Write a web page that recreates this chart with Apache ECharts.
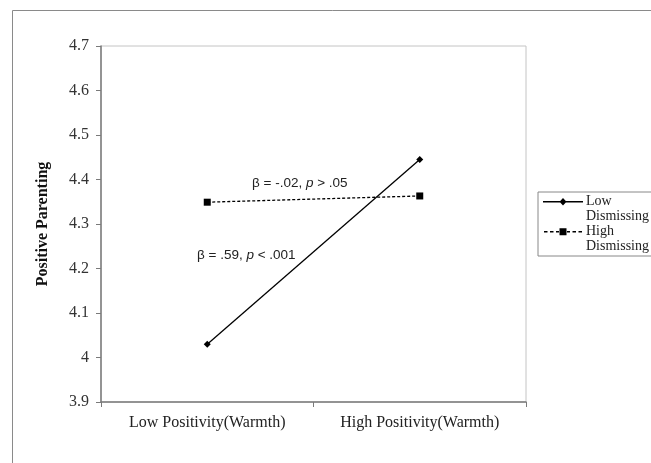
<!DOCTYPE html>
<html><head><meta charset="utf-8">
<script src="https://cdn.jsdelivr.net/npm/echarts@6/dist/echarts.min.js"></script>
<style>html,body{margin:0;padding:0;background:#fff}#c{width:651px;height:463px}</style>
</head><body><div id="c"></div>
<script>
const categories = ['Low Positivity(Warmth)', 'High Positivity(Warmth)'];
const lowDismissing = [4.03, 4.445];
const highDismissing = [4.349, 4.363];
const seriesNames = ['Low\nDismissing', 'High\nDismissing'];
const yTicks = { min: 3.9, max: 4.7, step: 0.1 };
const yTitle = 'Positive Parenting';
const annotLow = ['β = .59, ', 'p', ' < .001'];
const annotHigh = ['β = -.02, ', 'p', ' > .05'];

const chart = echarts.init(document.getElementById('c'), null, { renderer: 'canvas' });
const serif = '"Liberation Serif", "Times New Roman", serif';
const sans = '"Liberation Sans", Arial, sans-serif';
const iconSolid = 'path://M0 3 L40 3 L40 4.5 L0 4.5 Z M20 0 L23.5 3.75 L20 7.5 L16.5 3.75 Z M40 22 L40 22 Z';
const iconDashed = 'path://M1 3 L4.5 3 L4.5 4.5 L1 4.5 Z M7 3 L10.5 3 L10.5 4.5 L7 4.5 Z M13 3 L16 3 L16 4.5 L13 4.5 Z M16.5 0.25 L23.5 0.25 L23.5 7.25 L16.5 7.25 Z M24 3 L27 3 L27 4.5 L24 4.5 Z M29.5 3 L33 3 L33 4.5 L29.5 4.5 Z M35.5 3 L39 3 L39 4.5 L35.5 4.5 Z M0 22 L0 22 Z M40 0 L40 0 Z';
const option = {
  animation: false,
  backgroundColor: '#fff',
  grid: { left: 101, right: 125, top: 46, bottom: 61, show: true, borderColor: '#c4c4c4', borderWidth: 1 },
  xAxis: {
    type: 'category', data: categories, boundaryGap: true,
    axisLine: { lineStyle: { color: '#7a7a7a', width: 1.5 } },
    axisTick: { show: true, length: 5, lineStyle: { color: '#7a7a7a' } },
    axisLabel: { fontFamily: serif, fontSize: 16, color: '#222', margin: 13 }
  },
  yAxis: {
    type: 'value', min: yTicks.min, max: yTicks.max, interval: yTicks.step,
    name: yTitle, nameLocation: 'middle', nameGap: 50, nameRotate: 90,
    nameTextStyle: { fontFamily: serif, fontSize: 16, fontWeight: 'bold', color: '#111' },
    axisLine: { show: true, lineStyle: { color: '#7a7a7a', width: 1.5 } },
    axisTick: { show: true, length: 5, lineStyle: { color: '#7a7a7a' } },
    splitLine: { show: false },
    axisLabel: { fontFamily: serif, fontSize: 16, color: '#333', margin: 12,
      formatter: v => String(+v.toFixed(1)) }
  },
  legend: {
    left: 538, top: 192, orient: 'vertical', itemGap: 0,
    itemWidth: 40, itemHeight: 22,
    padding: [2, 20, 2, 5],
    borderColor: '#888', borderWidth: 1,
    textStyle: { fontFamily: serif, fontSize: 14, color: '#222', lineHeight: 15, padding: [0, 0, 0, -2] },
    data: [
      { name: seriesNames[0], icon: iconSolid },
      { name: seriesNames[1], icon: iconDashed }
    ]
  },
  series: [
    { name: seriesNames[0], type: 'line', data: lowDismissing, symbol: 'diamond', symbolSize: 7,
      lineStyle: { color: '#000', width: 1.3 }, itemStyle: { color: '#000' } },
    { name: seriesNames[1], type: 'line', data: highDismissing, symbol: 'rect', symbolSize: 7,
      lineStyle: { color: '#000', width: 1.3, type: [3, 2] }, itemStyle: { color: '#000' } }
  ],
  graphic: [
    { type: 'rect', shape: { x: 12.5, y: 10.5, width: 700, height: 500 }, style: { fill: 'none', stroke: '#8a8a8a', lineWidth: 1 }, silent: true },
    { type: 'text', left: 252, top: 176, style: {
        text: '{a|' + annotHigh[0] + '}{i|' + annotHigh[1] + '}{a|' + annotHigh[2] + '}',
        rich: { a: { fontFamily: sans, fontSize: 13.5, fill: '#222' }, i: { fontFamily: sans, fontSize: 13.5, fontStyle: 'italic', fill: '#222' } } } },
    { type: 'text', left: 197, top: 248, style: {
        text: '{a|' + annotLow[0] + '}{i|' + annotLow[1] + '}{a|' + annotLow[2] + '}',
        rich: { a: { fontFamily: sans, fontSize: 13.5, fill: '#222' }, i: { fontFamily: sans, fontSize: 13.5, fontStyle: 'italic', fill: '#222' } } } }
  ]
};
chart.setOption(option);
</script></body></html>
